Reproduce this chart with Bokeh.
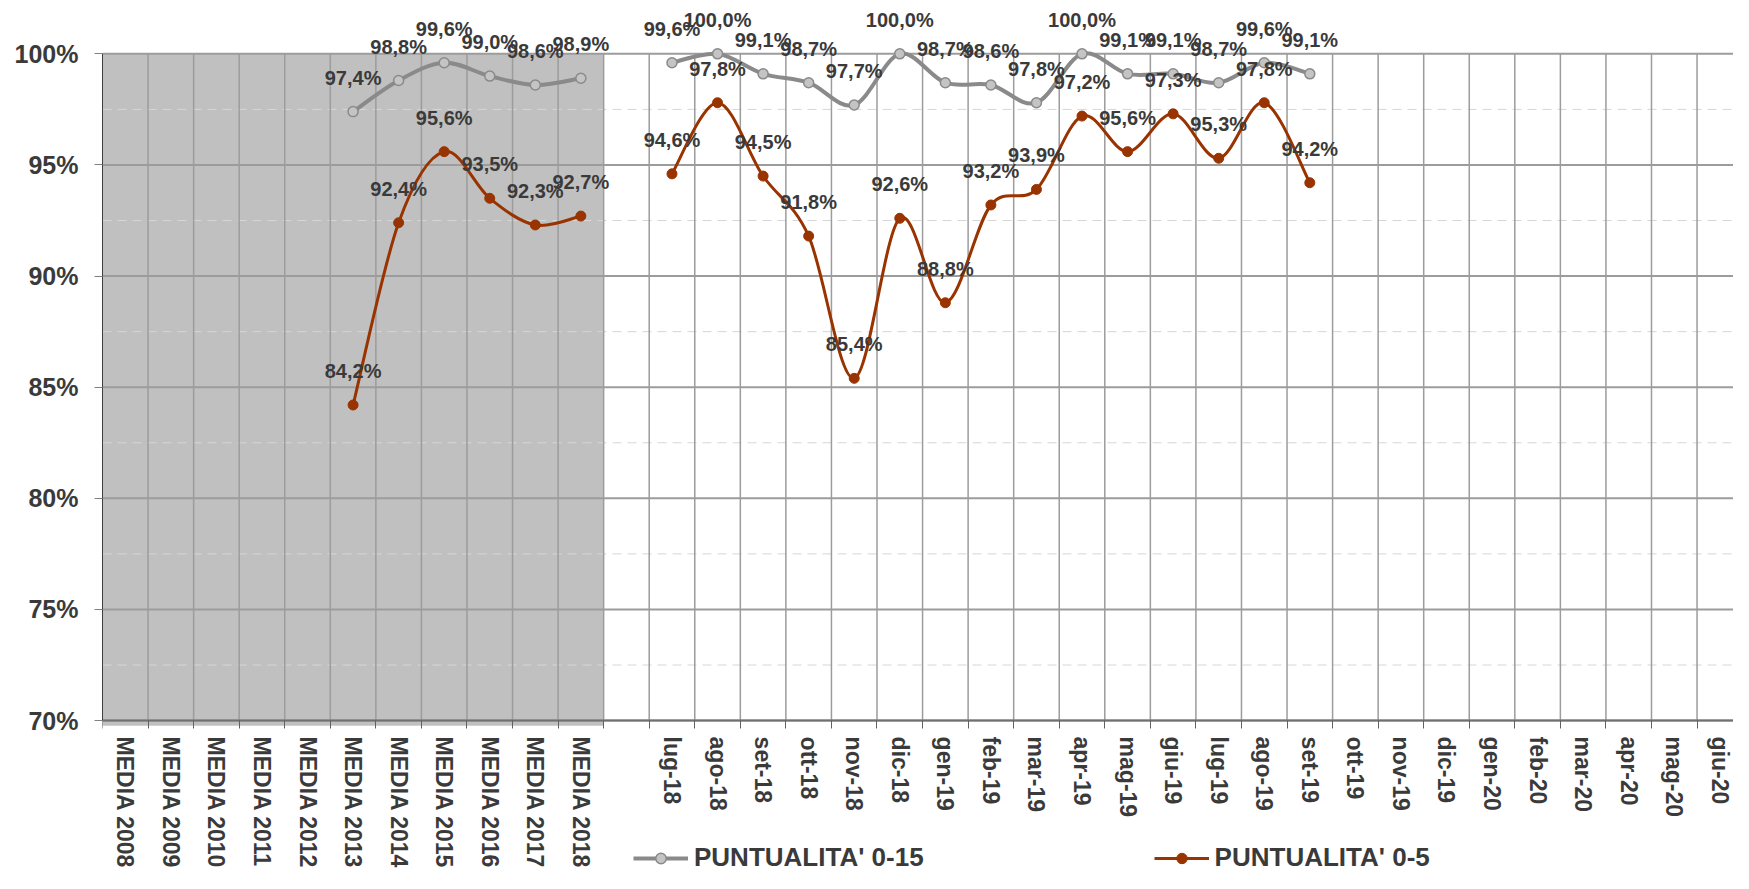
import math
from bokeh.plotting import figure
from bokeh.core.properties import value
from bokeh.models import (ColumnDataSource, FixedTicker, PrintfTickFormatter, Range1d,
                          Legend, LegendItem, LabelSet)
from bokeh.embed import file_html
from bokeh.resources import INLINE

# categories
media_labels = ["MEDIA 2008", "MEDIA 2009", "MEDIA 2010", "MEDIA 2011", "MEDIA 2012",
                "MEDIA 2013", "MEDIA 2014", "MEDIA 2015", "MEDIA 2016", "MEDIA 2017",
                "MEDIA 2018"]
month_labels = ["lug-18", "ago-18", "set-18", "ott-18", "nov-18", "dic-18",
                "gen-19", "feb-19", "mar-19", "apr-19", "mag-19", "giu-19",
                "lug-19", "ago-19", "set-19", "ott-19", "nov-19", "dic-19",
                "gen-20", "feb-20", "mar-20", "apr-20", "mag-20", "giu-20"]

# values (%)
punt15_media = [None, None, None, None, None, 97.4, 98.8, 99.6, 99.0, 98.6, 98.9]
punt5_media = [None, None, None, None, None, 84.2, 92.4, 95.6, 93.5, 92.3, 92.7]
punt15_month = [99.6, 100.0, 99.1, 98.7, 97.7, 100.0, 98.7, 98.6, 97.8, 100.0,
                99.1, 99.1, 98.7, 99.6, 99.1]
punt5_month = [94.6, 97.8, 94.5, 91.8, 85.4, 92.6, 88.8, 93.2, 93.9, 97.2,
               95.6, 97.3, 95.3, 97.8, 94.2]

y_ticks = [70, 75, 80, 85, 90, 95, 100]

FONT = "Liberation Sans"
TXT = "#3a3a3a"
GRID = "#9c9c9c"
GRAY_LINE = "#8a8a8a"
RED = "#993300"

# category layout: media years, one empty slot, months
categories = media_labels + [""] + month_labels
n_cat = len(categories)
month_start = len(media_labels) + 1


def series_points(media_vals, month_vals):
    xs, ys = [], []
    groups = []
    cur = []
    for i, v in enumerate(media_vals):
        if v is not None:
            cur.append((i + 0.5, v))
    groups.append(cur)
    groups.append([(month_start + j + 0.5, v) for j, v in enumerate(month_vals)])
    for g in groups:
        for x, y in g:
            xs.append(x)
            ys.append(y)
    return xs, ys, groups


def smooth(groups):
    # smoothed line like the spreadsheet: cubic bezier through every point
    out = dict(x0=[], y0=[], x1=[], y1=[], cx0=[], cy0=[], cx1=[], cy1=[])
    for g in groups:
        n = len(g)
        for i in range(n - 1):
            xa, ya = g[i]
            xb, yb = g[i + 1]
            xp, yp = g[i - 1] if i > 0 else g[i]
            xn, yn = g[i + 2] if i + 2 < n else g[i + 1]
            out["x0"].append(xa); out["y0"].append(ya)
            out["x1"].append(xb); out["y1"].append(yb)
            out["cx0"].append(xa + (xb - xp) / 6.0)
            out["cy0"].append(ya + (yb - yp) / 6.0)
            out["cx1"].append(xb - (xn - xa) / 6.0)
            out["cy1"].append(yb - (yn - ya) / 6.0)
    return ColumnDataSource(out)


# the frame reaches the bottom of the canvas so the legend under the
# category labels is not clipped; the x axis is pinned at 70%
p = figure(width=1733, height=873,
           x_range=Range1d(0, 35.8), y_range=Range1d(63.12, 102.22),
           output_backend="svg", toolbar_location=None,
           min_border_left=102, min_border_right=0,
           min_border_top=4, min_border_bottom=0)
p.xgrid.visible = False
p.ygrid.visible = False
p.outline_line_color = None
p.background_fill_color = "white"

# shaded block behind the yearly averages (bleeds a little past the axes)
p.quad(left=[-0.12], right=[len(media_labels)], bottom=[y_ticks[0] - 0.23],
       top=[y_ticks[-1]], fill_color="#c0c0c0", line_color=None)

# grid
minor_levels = [v + 2.5 for v in y_ticks[:-1]]
p.segment(x0=0, y0=minor_levels, x1=n_cat, y1=minor_levels,
          line_color="#d6d6d6", line_width=1, line_dash="9 6")
p.segment(x0=0, y0=y_ticks, x1=n_cat, y1=y_ticks, line_color=GRID, line_width=2)
bounds = list(range(1, n_cat + 1))
p.segment(x0=bounds, y0=y_ticks[0], x1=bounds, y1=y_ticks[-1],
          line_color=GRID, line_width=1.5)

# series
gx, gy, g_groups = series_points(punt15_media, punt15_month)
rx, ry, r_groups = series_points(punt5_media, punt5_month)

g_line = p.bezier(x0="x0", y0="y0", x1="x1", y1="y1", cx0="cx0", cy0="cy0",
                  cx1="cx1", cy1="cy1", source=smooth(g_groups),
                  line_color=GRAY_LINE, line_width=4)
r_line = p.bezier(x0="x0", y0="y0", x1="x1", y1="y1", cx0="cx0", cy0="cy0",
                  cx1="cx1", cy1="cy1", source=smooth(r_groups),
                  line_color=RED, line_width=3)

fmt = lambda v: ("%.1f%%" % v).replace(".", ",")
g_src = ColumnDataSource(dict(x=gx, y=gy, t=[fmt(v) for v in gy]))
r_src = ColumnDataSource(dict(x=rx, y=ry, t=[fmt(v) for v in ry]))

g_pts = p.scatter("x", "y", source=g_src, marker="circle", size=10,
                  fill_color="#c4c4c4", line_color=GRAY_LINE, line_width=1.5)
r_pts = p.scatter("x", "y", source=r_src, marker="circle", size=10,
                  fill_color=RED, line_color=RED, line_width=1)

for src in (g_src, r_src):
    p.add_layout(LabelSet(x="x", y="y", text="t", source=src, y_offset=34,
                          text_align="center", text_baseline="middle",
                          text_font=value(FONT), text_font_style="bold",
                          text_font_size="20px", text_color=TXT))

# y axis
p.yaxis.ticker = FixedTicker(ticks=y_ticks)
p.yaxis.formatter = PrintfTickFormatter(format="%d%%")
p.yaxis.bounds = (y_ticks[0], y_ticks[-1])
p.yaxis.axis_line_color = "#404040"
p.yaxis.major_tick_out = 8
p.yaxis.major_tick_in = 0
p.yaxis.major_tick_line_color = "#808080"
p.yaxis.minor_tick_line_color = None
p.yaxis.major_label_standoff = 16
p.yaxis.major_label_text_font = FONT
p.yaxis.major_label_text_font_style = "bold"
p.yaxis.major_label_text_font_size = "25px"
p.yaxis.major_label_text_color = TXT

# x axis: labels in the middle of each slot, ticks on the slot borders
centers = [i + 0.5 for i, c in enumerate(categories) if c]
p.xaxis.fixed_location = y_ticks[0]
p.xaxis.ticker = FixedTicker(ticks=centers, minor_ticks=list(range(0, n_cat + 1)))
p.xaxis.major_label_overrides = {i + 0.5: c for i, c in enumerate(categories) if c}
p.xaxis.major_tick_out = 0
p.xaxis.major_tick_in = 0
p.xaxis.minor_tick_out = 8
p.xaxis.minor_tick_in = 0
p.xaxis.minor_tick_line_color = "#606060"
p.xaxis.axis_line_color = "#707070"
p.xaxis.axis_line_width = 2
p.xaxis.major_label_orientation = -math.pi / 2
p.xaxis.major_label_standoff = 8
p.xaxis.major_label_text_font = FONT
p.xaxis.major_label_text_font_style = "bold"
p.xaxis.major_label_text_font_size = "23px"
p.xaxis.major_label_text_color = TXT

legend = Legend(items=[LegendItem(label="PUNTUALITA' 0-15", renderers=[g_line, g_pts]),
                       LegendItem(label="PUNTUALITA' 0-5", renderers=[r_line, r_pts])],
                orientation="horizontal", location=(531, 0),
                border_line_color=None, background_fill_alpha=0,
                padding=0, margin=0, spacing=230,
                glyph_width=55, glyph_height=26, label_height=26,
                label_standoff=6, label_text_font=FONT,
                label_text_font_style="bold", label_text_font_size="26px",
                label_text_color=TXT)
p.add_layout(legend)

open("out.html", "w").write(file_html(p, INLINE))
